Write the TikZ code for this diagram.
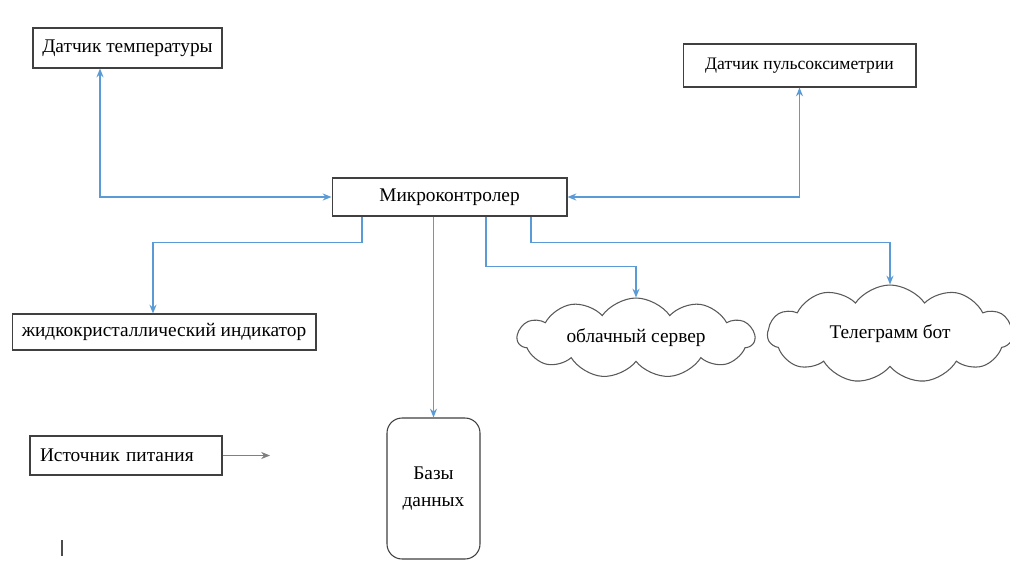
\documentclass[tikz,border=0pt]{standalone}
\usepackage{fontspec}
\setmainfont{Liberation Serif}
\usetikzlibrary{shapes.symbols,calc,arrows.meta}
\definecolor{linkblue}{RGB}{91,155,213}

\begin{document}
\begin{tikzpicture}[x=0.02cm, y=-0.02cm, >={Stealth[length=5pt,width=4pt]},
  every node/.style={font=\fontsize{11}{15}\selectfont},
  box/.style={draw=black!75, line width=0.6pt, inner sep=2pt},
  puff/.style={cloud, cloud ignores aspect, draw=black!65, line width=0.6pt, cloud puffs=11, cloud puff arc=110},
  link/.style={draw=linkblue, line width=0.8pt}]
\useasboundingbox[fill=white] (0,0) rectangle (1010,561);
% Blocks
\node[box, minimum width=3.78cm, minimum height=0.8cm] (temp) at (127.5,48) {Датчик температуры};
\node[box, minimum width=4.66cm, minimum height=0.86cm, font=\fontsize{10}{12}\selectfont] (pulse) at (799.5,65.5) {Датчик пульсоксиметрии};
\node[box, minimum width=4.7cm, minimum height=0.76cm] (mcu) at (449.5,197) {Микроконтролер};
\node[box, minimum width=6.08cm, minimum height=0.72cm] (lcd) at (164,332) {жидкокристаллический индикатор};
\node[box, minimum height=0.78cm, inner xsep=0.2cm, text width=3.44cm, align=left] (power) at (126,455.5) {Источник питания};
\node[box, rounded corners=0.3cm, minimum width=1.86cm, minimum height=2.82cm, align=center] (db) at (433.5,488.5) {Базы\\данных};
% Clouds
\node[puff, minimum width=4.74cm, minimum height=1.6cm] (cloudsrv) at (636,338) {облачный сервер};
\node[puff, minimum width=4.9cm, minimum height=1.96cm] (tgbot) at (890,334) {Телеграмм бот};
% Sensors <-> microcontroller
\draw[link,<->] ($(temp.south)+(-27.5,0)$) |- (mcu.west);
\draw[link,<->] (pulse.south) |- (mcu.east);
% Outputs
\draw[link,->] ($(mcu.south)+(-87.5,0)$) -- ++(0,26) -| ($(lcd.north)+(-11,0)$);
\draw[link,->] (db.north |- mcu.south) -- (db.north);
\draw[link,->] ($(mcu.south)+(36.5,0)$) -- ++(0,50) -| (cloudsrv.north);
\draw[link,->] ($(mcu.south)+(81.5,0)$) -- ++(0,26) -| (tgbot.north);
% Power
\coordinate (powerend) at (270,455.5);
\draw[gray,->] (power.east) -- (powerend);
\draw[black!70, line width=0.6pt] (62,540) -- (62,556);
\end{tikzpicture}
\end{document}
